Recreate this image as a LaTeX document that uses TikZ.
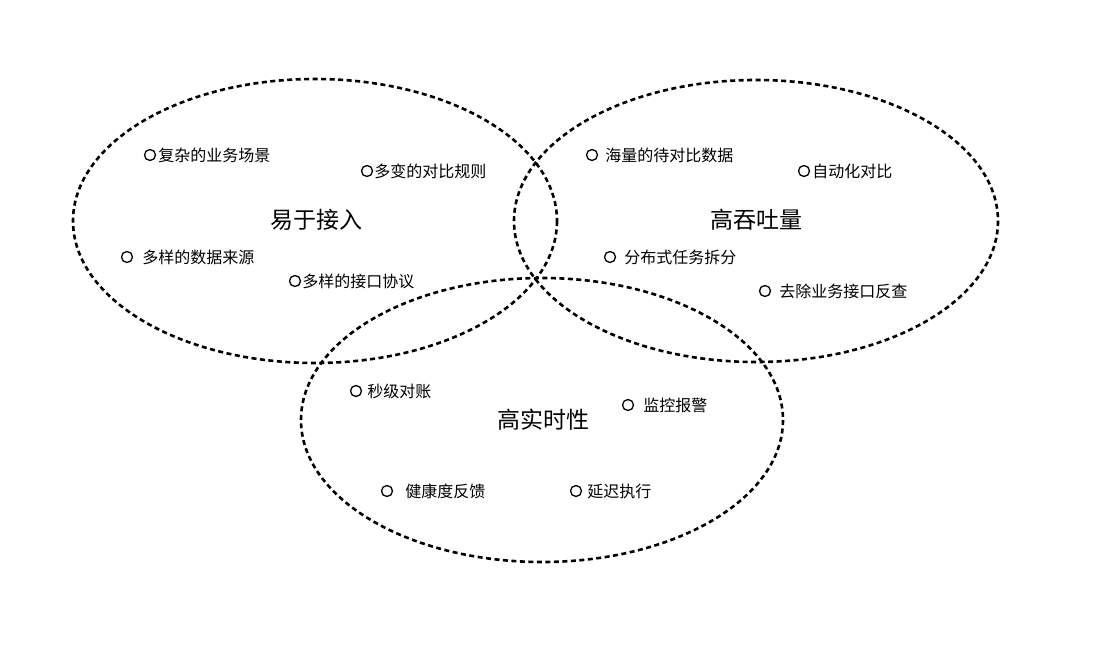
\documentclass[tikz,border=0pt]{standalone}
\usepackage{fontspec}
\setmainfont{Noto Sans CJK SC}
\begin{document}
\begin{tikzpicture}[x=1pt,y=-1pt,
  ring/.style={draw=black,line width=2.6pt,dash pattern=on 5pt off 3.5pt},
  dot/.style={circle,draw=black,line width=1.3pt,minimum size=11pt,inner sep=0pt},
  item/.style={anchor=west,inner sep=0pt,font=\fontsize{16}{18}\selectfont},
  big/.style={font=\fontsize{23}{26}\selectfont}]
\useasboundingbox (0,0) rectangle (1098,651);
\draw[ring] (315,221) ellipse [x radius=242,y radius=142];
\draw[ring] (756,221) ellipse [x radius=242,y radius=141];
\draw[ring] (542,420) ellipse [x radius=241,y radius=142];
\node[big] (a) at (316,220) {易于接入};
\node[big] (b) at (756,220) {高吞吐量};
\node[big] (c) at (543,420) {高实时性};
\newcommand\itm[4]{\node[dot] (#1) at (#2) {}; \node[item] (#1t) at ([xshift=#3]#1.east) {#4};}
\itm{i1}{150,155}{2pt}{复杂的业务场景}
\itm{i2}{367,171}{1pt}{多变的对比规则}
\itm{i3}{127,257}{9pt}{多样的数据来源}
\itm{i4}{295,281}{1pt}{多样的接口协议}
\itm{i5}{592,155}{7pt}{海量的待对比数据}
\itm{i6}{804,171}{2pt}{自动化对比}
\itm{i7}{610,257}{8pt}{分布式任务拆分}
\itm{i8}{765,291}{8pt}{去除业务接口反查}
\itm{i9}{356,391}{5pt}{秒级对账}
\itm{i10}{628,405}{9pt}{监控报警}
\itm{i11}{387,491}{12pt}{健康度反馈}
\itm{i12}{576,491}{5pt}{延迟执行}
\end{tikzpicture}
\end{document}
